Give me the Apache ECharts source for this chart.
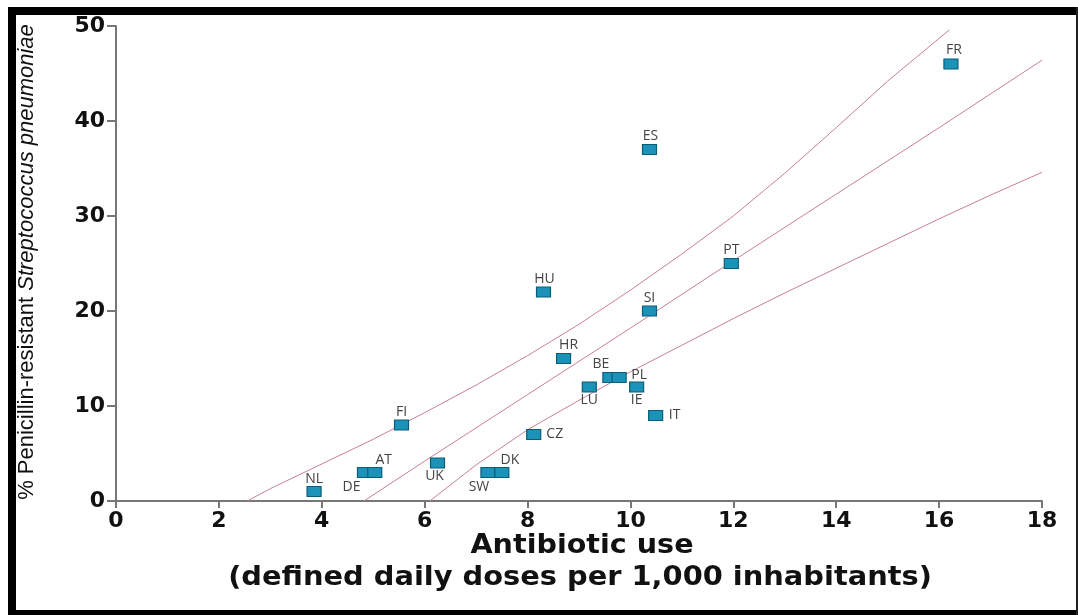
<!DOCTYPE html>
<html><head><meta charset="utf-8">
<script src="https://cdn.jsdelivr.net/npm/echarts@6/dist/echarts.min.js"></script>
<style>html,body{margin:0;padding:0;background:#fff}#c{width:1078px;height:615px}</style>
</head><body><div id="c"></div>
<script>
// ---- data ----
const countries = ['NL','DE','AT','UK','SW','DK','CZ','FI','LU','BE','PL','IE','IT','HR','HU','SI','PT','ES','FR'];
const antibioticUse = [3.85,4.83,5.03,6.25,7.23,7.5,8.12,5.55,9.2,9.6,9.78,10.12,10.49,8.7,8.31,10.37,11.96,10.37,16.23];
const resistance = [1,3,3,4,3,3,7,8,12,13,13,12,9,15,22,20,25,37,46];
const xTicks = [0,2,4,6,8,10,12,14,16,18];
const yTicks = [0,10,20,30,40,50];
const upperX = [2.55,3,4,5,6,7,8,9,10,11,12,13,14,15,16.2];
const upperY = [0,1.3,3.9,6.5,9.3,12.2,15.3,18.6,22.2,26.0,30.0,34.5,39.3,44.2,49.6];
const middleX = [4.82,6,8,10,12,14,16,18];
const middleY = [0,4.2,11.2,18.2,25.3,32.3,39.3,46.4];
const lowerX = [6.1,7,8,9,10,11,12,13,14,15,16,17,18];
const lowerY = [0,3.8,7.5,10.6,13.6,16.4,19.2,21.9,24.5,27.1,29.7,32.2,34.6];
const xTitle1 = 'Antibiotic use';
const xTitle2 = '(defined daily doses per 1,000 inhabitants)';

// ---- label placement (style) ----
const labelOffset = {
  NL:[0,-12], DE:[-13,15], AT:[9,-12], UK:[-3,13], SW:[-9,15], DK:[8,-12],
  CZ:[21,0], FI:[0,-13], LU:[0,13], BE:[-9,-13], PL:[20,-2], IE:[0,13],
  IT:[19,0], HR:[5,-13], HU:[1,-13], SI:[0,-13], PT:[0,-13], ES:[1,-13], FR:[3,-14]
};

const pairs = (xs, ys) => xs.map((x,i)=>[x, ys[i]]);
const lineColor = '#c9808e';
const lineSeries = (name, xs, ys) => ({
  name, type:'line', data: pairs(xs, ys), showSymbol:false, symbol:'none', silent:true,
  lineStyle:{color: lineColor, width:1}, z:1, animation:false
});

const chart = echarts.init(document.getElementById('c'), null, {renderer:'canvas'});
const tickFont = {fontFamily:'DejaVu Sans', fontWeight:'bold', fontSize:22, color:'#111'};
chart.setOption({
  backgroundColor:'#ffffff',
  animation:false,
  grid:{left:116, right:36, top:26, bottom:114, containLabel:false},
  xAxis:{
    type:'value', min:xTicks[0], max:xTicks[xTicks.length-1], interval:2,
    axisLine:{show:true, onZero:false, lineStyle:{color:'#777', width:2}},
    axisTick:{show:true, length:7, lineStyle:{color:'#777', width:2}},
    splitLine:{show:false},
    axisLabel:Object.assign({margin:9}, tickFont)
  },
  yAxis:{
    type:'value', min:yTicks[0], max:yTicks[yTicks.length-1], interval:10,
    axisLine:{show:true, onZero:false, lineStyle:{color:'#777', width:2}},
    axisTick:{show:true, length:9, lineStyle:{color:'#777', width:2}},
    splitLine:{show:false},
    axisLabel:Object.assign({margin:11}, tickFont)
  },
  series:[
    lineSeries('upper', upperX, upperY),
    lineSeries('middle', middleX, middleY),
    lineSeries('lower', lowerX, lowerY),
    {
      type:'scatter', z:5, animation:false,
      symbol:'rect', symbolSize:[14,10],
      itemStyle:{color:'#1b93b8', borderColor:'#0b5c78', borderWidth:1, opacity:1},
      data: countries.map((c,i)=>({
        name:c, value:[antibioticUse[i], resistance[i]],
        label:{offset: labelOffset[c]}
      })),
      label:{
        show:true, position:'inside', formatter:'{b}',
        fontFamily:'Open Sans', fontSize:14, color:'#444',
        textBorderWidth:0, align:'center', verticalAlign:'middle'
      }
    }
  ],
  graphic:[
    {type:'rect', shape:{x:8, y:7, width:1070, height:8}, style:{fill:'#000'}, silent:true},
    {type:'rect', shape:{x:8, y:7, width:8, height:608}, style:{fill:'#000'}, silent:true},
    {type:'rect', shape:{x:8, y:610, width:1070, height:5}, style:{fill:'#000'}, silent:true},
    {type:'rect', shape:{x:1076, y:7, width:2, height:608}, style:{fill:'#222'}, silent:true},
    {type:'text', x:582, y:546, scaleX:1.1, style:{text:xTitle1, font:'bold 26px "DejaVu Sans"', fill:'#111', textAlign:'center', textVerticalAlign:'middle'}},
    {type:'text', x:580, y:578, scaleX:1.11, style:{text:xTitle2, font:'bold 26px "DejaVu Sans"', fill:'#111', textAlign:'center', textVerticalAlign:'middle'}},
    {type:'text', x:27, y:262, rotation:Math.PI/2,
      style:{text:'% Penicillin-resistant {i|Streptococcus pneumoniae}', font:'22px "Liberation Sans"', fill:'#111',
        textAlign:'center', textVerticalAlign:'middle',
        rich:{i:{fontStyle:'italic', fontSize:22, fontFamily:'Liberation Sans', fill:'#111'}}}}
  ]
});
</script></body></html>
